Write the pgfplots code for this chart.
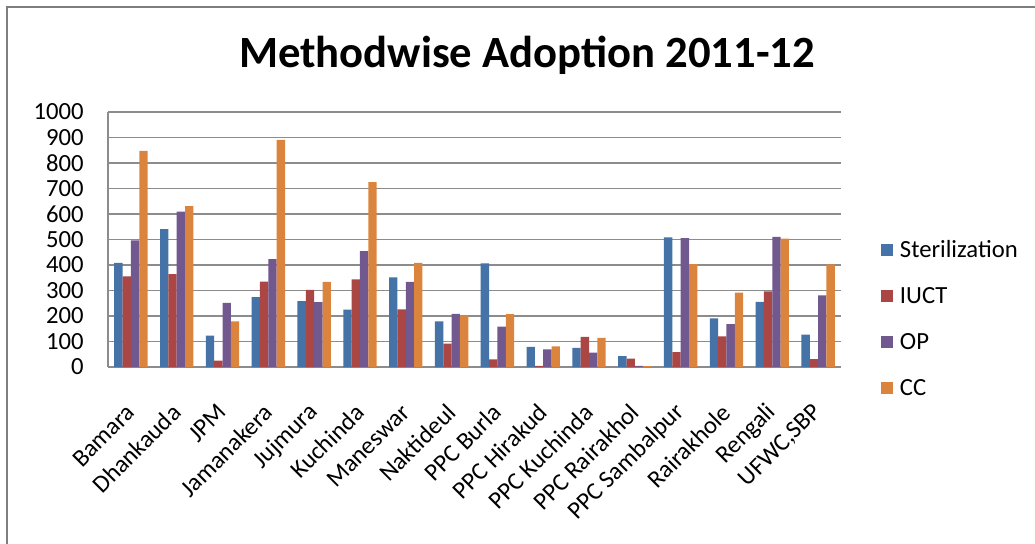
\documentclass[border=0pt]{standalone}
\usepackage{pgfplots}
\pgfplotsset{compat=1.18}
\usepackage{fontspec}
\setmainfont{Carlito}
\definecolor{cBlue}{HTML}{4572A7}
\definecolor{cRed}{HTML}{AA4643}
\definecolor{cPurple}{HTML}{71588F}
\definecolor{cOrange}{HTML}{DB843D}
\definecolor{cGrid}{HTML}{8C8C8C}
\begin{document}
\begin{tikzpicture}
\path[use as bounding box] (0,0) rectangle (776.25pt,407.25pt);
\draw[cGrid!90!black, line width=1.5pt] (5.25pt,-5pt) -- (5.25pt,402pt) -- (790pt,402pt);
\node[font=\fontsize{33.5}{40}\selectfont\bfseries] at (395.25pt,366pt) {Methodwise Adoption 2011-12};
\begin{axis}[
  at={(81pt,132pt)}, anchor=south west,
  scale only axis, width=549.75pt, height=191.25pt,
  ybar=0pt, bar width=6.26pt,
  xmin=-0.5, xmax=15.5, ymin=0, ymax=1000,
  ytick={0,100,...,1000},
  xtick=data,
  xticklabels={Bamara,Dhankauda,JPM,Jamanakera,Jujmura,Kuchinda,Maneswar,Naktideul,PPC Burla,PPC Hirakud,PPC Kuchinda,PPC Rairakhol,PPC Sambalpur,Rairakhole,Rengali,{UFWC,SBP}},
  axis x line*=bottom, axis y line*=left,
  axis line style={cGrid, line width=1.3pt, -},
  major tick length=0pt,
  ymajorgrids, grid style={cGrid, line width=1.3pt},
  /pgf/number format/assume math mode=true,
  /pgf/number format/1000 sep={},
  yticklabel style={font=\fontsize{18.5}{20}\selectfont, anchor=east, inner sep=0pt, xshift=-18pt},
  xticklabel style={font=\fontsize{18.5}{20}\selectfont, yshift=-31pt, rotate=45, anchor=east, inner sep=0pt},
  legend style={at={(1.0546,0.19)}, anchor=west, draw=none, fill=none, inner sep=0pt,
    font=\fontsize{18.5}{20}\selectfont, row sep=17pt, legend cell align=left,
    /tikz/every odd column/.append style={column sep=3pt}},
  legend image code/.code={\fill[#1] (0pt,-4.5pt) rectangle (9pt,4.5pt);},
  clip=false,
]
\addplot[fill=cBlue, draw=none] coordinates {(0,408) (1,541) (2,123) (3,274) (4,258) (5,225) (6,351) (7,179) (8,406) (9,79) (10,75) (11,43) (12,508) (13,191) (14,255) (15,127)};
\addplot[fill=cRed, draw=none] coordinates {(0,355) (1,364) (2,25) (3,335) (4,302) (5,344) (6,226) (7,92) (8,30) (9,4) (10,118) (11,33) (12,58) (13,120) (14,297) (15,31)};
\addplot[fill=cPurple, draw=none] coordinates {(0,497) (1,609) (2,251) (3,423) (4,254) (5,454) (6,334) (7,208) (8,158) (9,69) (10,56) (11,4) (12,505) (13,168) (14,510) (15,281)};
\addplot[fill=cOrange, draw=none] coordinates {(0,848) (1,631) (2,179) (3,891) (4,334) (5,725) (6,408) (7,202) (8,207) (9,81) (10,114) (11,3) (12,403) (13,292) (14,503) (15,402)};
\legend{Sterilization,IUCT,OP,CC}
\end{axis}
\end{tikzpicture}
\end{document}
